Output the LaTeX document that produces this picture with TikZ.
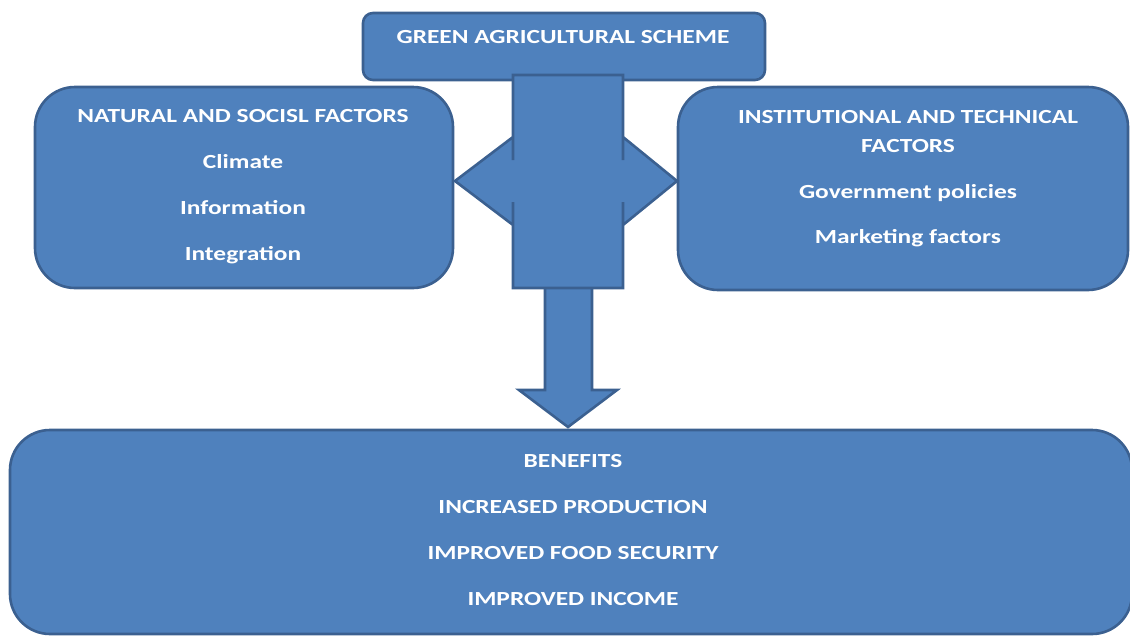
\documentclass[tikz,border=0pt]{standalone}
\usepackage{fontspec}
\setmainfont{Carlito}[FakeStretch=1.27]
\begin{document}
\begin{tikzpicture}[x=1pt,y=-1pt,
  panel/.style={fill=boxfill,draw=boxline,line width=2.6pt},
  label/.style={text=white,font=\fontsize{20}{24}\selectfont\bfseries,anchor=base,inner sep=0pt}]
\definecolor{boxfill}{HTML}{4F81BD}
\definecolor{boxline}{HTML}{3B6090}
\useasboundingbox (0,0) rectangle (1130,635);

% boxes
\draw[panel,rounded corners=10pt] (363,13) rectangle (765,80);
\draw[panel,rounded corners=40pt] (35,87) rectangle (453,288);
\draw[panel,rounded corners=40pt] (678,87) rectangle (1128,290);
\draw[panel,rounded corners=40pt] (10,430) rectangle (1132,634);

% downward block arrow to the benefits box
\draw[panel,line join=miter] (545,280) -- (545,390) -- (519,390) -- (568,427)
  -- (617,390) -- (592,390) -- (592,280) -- cycle;

% central column with the two-way arrow across it
\fill[boxfill] (513,75) rectangle (623,288);
\fill[boxfill] (455,181) -- (513,137) -- (513,160) -- (623,160) -- (623,137)
  -- (677,181) -- (623,225) -- (623,202) -- (513,202) -- (513,225) -- cycle;
\draw[boxline,line width=2.6pt,line join=miter]
  (513,160) -- (513,75) -- (623,75) -- (623,160)
  (623,202) -- (623,288) -- (513,288) -- (513,202)
  (513,160) -- (513,137) -- (455,181) -- (513,225) -- (513,202)
  (623,160) -- (623,137) -- (677,181) -- (623,225) -- (623,202);

% texts
\node[label] (scheme) at (563,43) {GREEN AGRICULTURAL SCHEME};

\node[label] (nat) at (243,122) {NATURAL AND SOCISL FACTORS};
\node[label] (climate) at (243,168) {Climate};
\node[label] (info) at (243,214) {Information};
\node[label] (integ) at (243,260) {Integration};

\node[label] (inst) at (908,123) {INSTITUTIONAL AND TECHNICAL};
\node[label] (instb) at (908,152) {FACTORS};
\node[label] (gov) at (908,198) {Government policies};
\node[label] (mkt) at (908,243) {Marketing factors};

\node[label] (ben) at (573,467) {BENEFITS};
\node[label] (prod) at (573,513) {INCREASED PRODUCTION};
\node[label] (food) at (573,559) {IMPROVED FOOD SECURITY};
\node[label] (income) at (573,605) {IMPROVED INCOME};
\end{tikzpicture}
\end{document}
